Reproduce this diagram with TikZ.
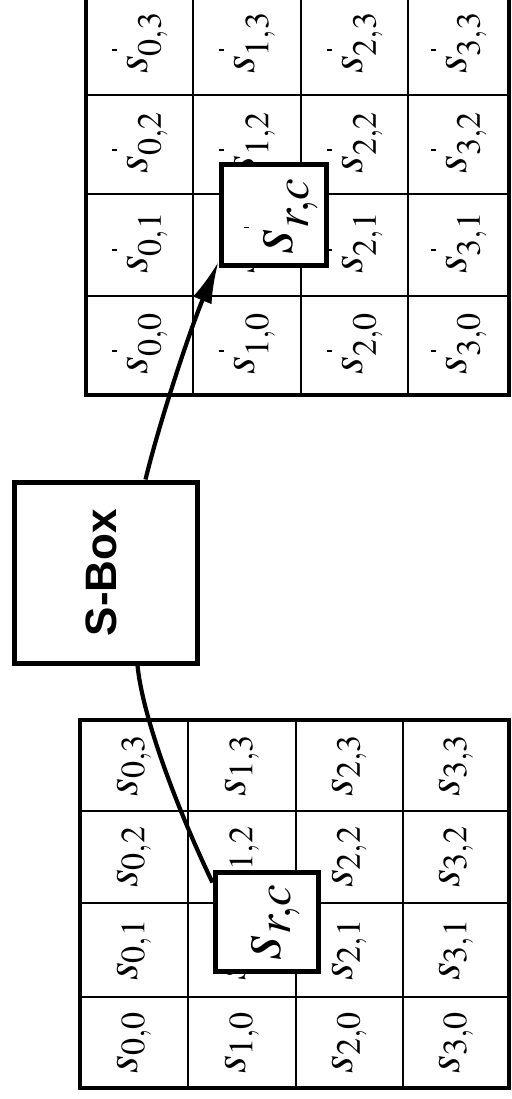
\documentclass[tikz,border=0pt]{standalone}
\usepackage{mathptmx}
\usepackage{fontspec}
\newfontfamily\sboxfont{Liberation Sans}
\usetikzlibrary{arrows.meta,calc}
% small raised prime tick: #1 = horizontal offset, #2 = raise
\newcommand\myprime[2]{\hspace{#1}\rule[#2]{1.8pt}{5pt}}
\begin{document}
\begin{tikzpicture}[x=1pt,y=-1pt,
  gridline/.style={line width=2pt},
  gridborder/.style={line width=3.5pt},
  lab/.style={rotate=90,font=\fontsize{46}{46}\selectfont,inner sep=0pt},
  hl/.style={draw,fill=white,line width=5pt,inner sep=0pt},
  hllab/.style={rotate=90,font=\fontsize{66}{66}\selectfont,inner sep=0pt},
  conn/.style={line width=4.2pt}]
\useasboundingbox (0,0) rectangle (511,1099);
% ---- top grid (output state) ----
\foreach \x in {193,301,408} \draw[gridline] (\x,-5) -- (\x,395);
\foreach \y in {95,194,296} \draw[gridline] (86,\y) -- (509,\y);
\draw[gridborder] (86,-5) rectangle (509,395);
% ---- bottom grid (input state) ----
\foreach \x in {188,296,403} \draw[gridline] (\x,720) -- (\x,1088);
\foreach \y in {811,903,997} \draw[gridline] (80,\y) -- (509,\y);
\draw[gridborder] (80,720) rectangle (509,1088);
% ---- labels top ----
\foreach \r/\x in {0/139.5,1/247,2/354.5,3/458.5}{
  \foreach \c/\y in {3/43,2/142.5,1/243,0/343.5}{
    \node[lab] (t\r\c) at (\x,\y) {$s^{\myprime{5pt}{14pt}}_{\r,\c}$};
  }
}
% ---- labels bottom ----
\foreach \r/\x in {0/134,1/242,2/349.5,3/456}{
  \foreach \c/\y in {3/765.5,2/857,1/950,0/1042.5}{
    \node[lab] (b\r\c) at (\x,\y) {$s_{\r,\c}$};
  }
}
% ---- highlighted bytes ----
\node[hl,minimum width=105pt,minimum height=100pt] (dst) at (273.5,215) {};
\node[hllab] (dstlab) at (281,216) {$s^{\myprime{0pt}{20pt}}_{r,c}$};
\node[hl,minimum width=103pt,minimum height=99pt] (src) at (266.5,921.5) {};
\node[hllab] (srclab) at (276,922) {$s_{r,c}$};
% ---- S-Box ----
\node[draw,line width=5pt,fill=white,inner sep=0pt,minimum width=183pt,minimum height=181pt] (sbox) at (105.5,572.5) {};
\node[rotate=90,inner sep=0pt,font=\sboxfont\bfseries\fontsize{44}{44}\selectfont] (sboxlab) at ($(sbox.center)+(-4,0)$) {S-Box};
% ---- connectors ----
\draw[conn] ($(src.north west)+(0,13)$) .. controls (180,815) and (143,720) .. ($(sbox.south)+(32,0)$);
\draw[conn,-{Latex[length=42pt,width=20pt]}] ($(sbox.north)+(40,0)$) .. controls (160,420) and (190,330) .. ($(dst.south west)+(0,-6)$);
\end{tikzpicture}
\end{document}
